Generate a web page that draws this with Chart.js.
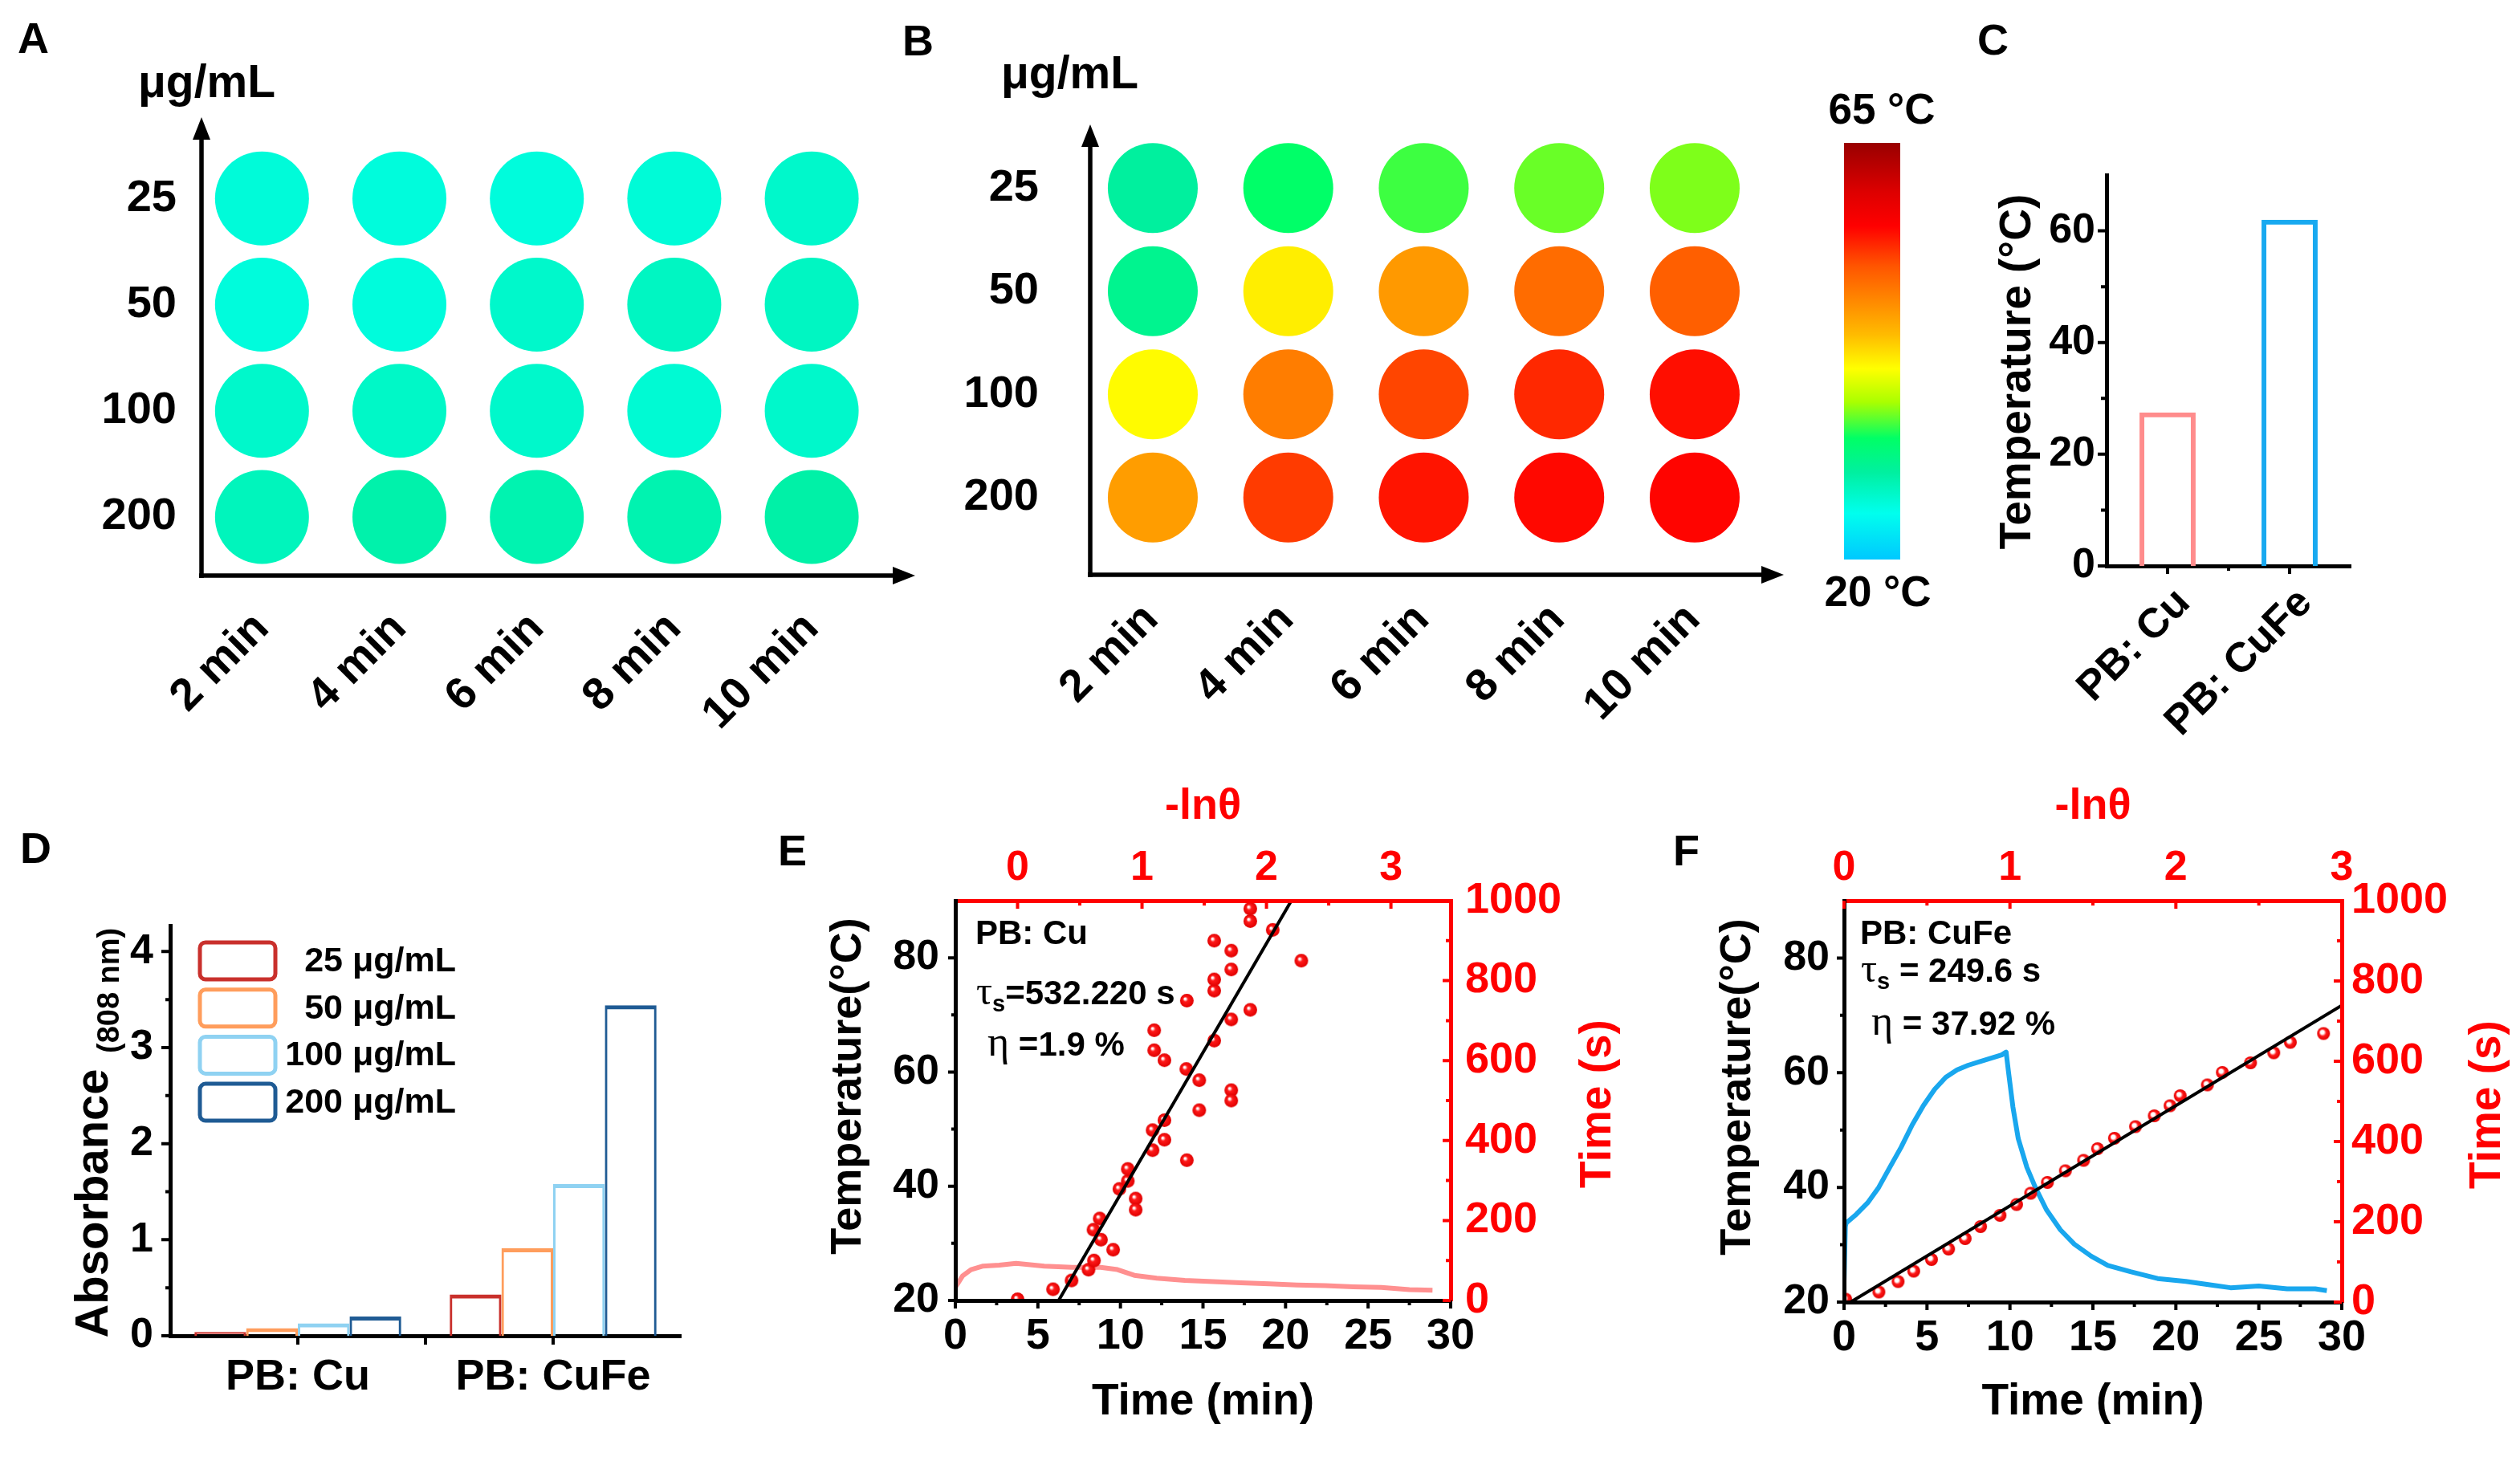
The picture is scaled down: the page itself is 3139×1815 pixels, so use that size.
<!DOCTYPE html>
<html lang="en">
<head>
<meta charset="utf-8">
<title>PB: Cu vs PB: CuFe photothermal</title>
<script src="https://cdn.jsdelivr.net/npm/chart.js@4.4.1/dist/chart.umd.min.js"></script>
<style>
  html, body { margin: 0; padding: 0; background: #fff; }
  body { position: relative; width: 3139px; height: 1815px; overflow: hidden; }
  canvas { position: absolute; }
</style>
</head>
<body>
<script>
// Minutos de irradiación (columnas de A y B)
const minutes = [2, 4, 6, 8, 10];
// Concentraciones en µg/mL (filas de A y B)
const concLabels = ['25', '50', '100', '200'];
const tempA = [
  [26.2, 26.0, 26.0, 26.3, 27.0],
  [26.0, 26.0, 27.0, 27.5, 27.5],
  [27.0, 27.2, 27.0, 26.5, 27.0],
  [27.8, 28.8, 28.5, 28.5, 29.0]
];
const tempB = [
  [29.5, 33.0, 34.5, 35.5, 36.0],
  [30.5, 41.5, 46.8, 50.0, 51.0],
  [40.8, 48.8, 52.5, 54.0, 55.3],
  [46.5, 53.0, 55.0, 55.6, 55.8]
];
// Escala de color de la cámara térmica (20 °C - 65 °C)
const cmapT = [20, 25, 29.4, 33.1, 37, 40.6, 44.3, 48, 51.7, 56, 59.7, 65];
const cmapC = ['#00c8ff', '#00ffee', '#00f0a0', '#00ff66', '#aaff00', '#ffff00',
               '#ffbb00', '#ff8800', '#ff5500', '#ff0000', '#dd0000', '#990000'];

// Panel C: temperatura máxima
const sampleLabels = ['PB: Cu', 'PB: CuFe'];
const maxTemp = [27.5, 62.0];
const cTicks = [0, 20, 40, 60];

// Panel D: absorbancia a 808 nm
const concSeries = ['25 μg/mL', '50 μg/mL', '100 μg/mL', '200 μg/mL'];
const abs25 = [0.04, 0.43];
const abs50 = [0.08, 0.91];
const abs100 = [0.13, 1.58];
const abs200 = [0.20, 3.44];
const dTicks = [0, 1, 2, 3, 4];

// Paneles E y F: ejes comunes
const timeTicks = [0, 5, 10, 15, 20, 25, 30];
const tempTicks = [20, 40, 60, 80];
const secTicks = [0, 200, 400, 600, 800, 1000];
const lnTicks = [0, 1, 2, 3];

// E: curva de calentamiento/enfriamiento PB: Cu
const eTimeMin = [0, 0.44, 0.95, 1.64, 2.66, 3.68, 5.39, 7.09, 8.8, 9.82, 10.84, 12.2, 13.9, 15.6,
                  17.3, 19.0, 20.7, 22.4, 24.1, 25.8, 27.5, 28.9];
const eTemp = [22.3, 24.3, 25.4, 26.0, 26.2, 26.5, 26.0, 25.8, 25.8, 25.4, 24.4, 23.9, 23.5, 23.3,
               23.1, 22.9, 22.7, 22.6, 22.4, 22.3, 21.9, 21.8];
// E: -lnθ frente a tiempo (s)
const eLn = [0, 0.285, 0.434, 0.57, 0.614, 0.61, 0.66, 0.67, 0.768, 0.818, 0.886, 0.886, 0.949, 0.949,
             1.085, 1.085, 1.18, 1.18, 1.098, 1.098, 1.18, 1.356, 1.36, 1.36, 1.46, 1.46, 1.58, 1.58,
             1.58, 1.58, 1.717, 1.717, 1.717, 1.717, 1.717, 1.87, 1.87, 1.87, 2.05, 2.28];
const eSec = [3, 28, 50, 77, 100, 177, 205, 152, 127, 279, 299, 329, 255, 227,
              376, 426, 451, 402, 626, 676, 601, 579, 750, 351, 551, 476, 650, 775,
              803, 900, 703, 828, 875, 526, 500, 727, 949, 980, 927, 850];
const eFitLn = [0.33, 2.20];
const eFitSec = [0, 1000];

// F: curva de calentamiento/enfriamiento PB: CuFe
const fTimeMin = [0, 0.08, 0.13, 0.74, 1.42, 2.09, 2.76, 3.44, 4.11, 4.79, 5.46, 6.13, 6.81, 7.48,
                  8.16, 8.83, 9.5, 9.77, 9.91, 10.18, 10.5, 11.02, 11.53, 12.2, 13.04, 13.88, 14.9,
                  15.9, 17.26, 18.9, 20.6, 22.3, 23.3, 25.0, 26.7, 28.4, 29.1];
const fTemp = [23.5, 33.2, 33.8, 35.3, 37.3, 40.0, 43.5, 47.0, 50.9, 54.3, 57.1, 59.2, 60.5, 61.3,
               61.9, 62.5, 63.1, 63.6, 60.2, 54.0, 48.5, 43.5, 40.0, 36.1, 32.6, 30.1, 28.0,
               26.4, 25.3, 24.1, 23.6, 22.9, 22.5, 22.8, 22.3, 22.3, 22.0];
// F: -lnθ frente a tiempo (s)
const fLn = [0.01, 0.21, 0.326, 0.42, 0.527, 0.63, 0.73, 0.823, 0.94, 1.04, 1.125, 1.226, 1.334,
             1.444, 1.528, 1.63, 1.757, 1.87, 1.965, 2.026, 2.19, 2.28, 2.45, 2.59, 2.69, 2.89];
const fSec = [7, 25, 51, 77, 106, 132, 158, 188, 216, 243, 271, 298, 327,
              353, 382, 408, 437, 464, 489, 514, 541, 572, 596, 621, 647, 669];
const fFitLn = [0.04, 3.0];
const fFitSec = [0, 739];

const FONT = '"Liberation Sans", Arial, Helvetica, sans-serif';
const SERIF = '"Liberation Serif", "Times New Roman", serif';
Chart.defaults.font.family = FONT;
Chart.defaults.font.weight = 'bold';
Chart.defaults.color = '#000';

// Cajas de cada panel (coordenadas de página) y su área de trazado
const boxA = { x: 0, y: 0, w: 1180, h: 960 },      areaA = { l: 251, t: 181, r: 1140, b: 710 };
const boxB = { x: 1100, y: 0, w: 1350, h: 960 },   areaB = { l: 1358, t: 170, r: 2222, b: 684 };
const boxC = { x: 2450, y: 0, w: 689, h: 960 },    areaC = { l: 2624, t: 218, r: 2928, b: 705 };
const boxD = { x: 0, y: 960, w: 960, h: 855 },     areaD = { l: 212, t: 1153, r: 848, b: 1664 };
const boxE = { x: 960, y: 960, w: 1110, h: 855 },  areaE = { l: 1190, t: 1122, r: 1807, b: 1620 };
const boxF = { x: 2070, y: 960, w: 1069, h: 855 }, areaF = { l: 2297, t: 1122, r: 2917, b: 1622 };

function makeCanvas(box) {
  const c = document.createElement('canvas');
  c.width = box.w; c.height = box.h;
  c.style.cssText = `left:${box.x}px;top:${box.y}px;width:${box.w}px;height:${box.h}px`;
  document.body.appendChild(c);
  return c;
}

// Cada eje ocupa todo el margen de su lado, así el área de trazado queda fija
function baseOptions(box, area, scales) {
  const pad = { left: area.l - box.x, top: area.t - box.y, right: box.x + box.w - area.r, bottom: box.y + box.h - area.b };
  const layoutPad = Object.assign({}, pad);
  Object.entries(scales).forEach(([id, sc]) => {
    const pos = sc.position || (id.startsWith('x') ? 'bottom' : 'left');
    layoutPad[pos] = 0;
    sc.afterFit = s => { if (s.isHorizontal()) s.height = pad[pos]; else s.width = pad[pos]; };
  });
  return {
    responsive: false, animation: false, devicePixelRatio: 1, events: [],
    layout: { padding: layoutPad },
    plugins: { legend: { display: false }, tooltip: { enabled: false } },
    scales
  };
}

function axis(o) {
  const a = Object.assign({ grid: { display: false, drawTicks: false }, border: { display: false } }, o);
  // números sin separador de miles
  if (a.ticks && a.type === 'linear') a.ticks.callback = v => String(v);
  return a;
}
const fixTicks = vals => s => { s.ticks = vals.map(v => ({ value: v })); };
const pairs = (xs, ys) => xs.map((x, i) => ({ x, y: ys[i] }));

function hex2rgb(h) { return [1, 3, 5].map(i => parseInt(h.substr(i, 2), 16)); }
function cmap(t) {
  t = Math.max(cmapT[0], Math.min(cmapT[cmapT.length - 1], t));
  let i = 0;
  while (i < cmapT.length - 2 && t > cmapT[i + 1]) i++;
  const f = (t - cmapT[i]) / (cmapT[i + 1] - cmapT[i]);
  const a = hex2rgb(cmapC[i]), b = hex2rgb(cmapC[i + 1]);
  return `rgb(${a.map((v, k) => Math.round(v + (b[k] - v) * f)).join(',')})`;
}

function text(ctx, s, x, y, o = {}) {
  ctx.save();
  ctx.font = `${o.weight || 'bold'} ${o.size || 54}px ${o.family || FONT}`;
  ctx.fillStyle = o.color || '#000';
  ctx.textAlign = o.align || 'left';
  ctx.textBaseline = o.base || 'middle';
  ctx.translate(x, y);
  if (o.rot) ctx.rotate(o.rot);
  ctx.fillText(s, 0, 0);
  ctx.restore();
}
function runs(ctx, parts, x, y) {
  ctx.save();
  ctx.textBaseline = 'alphabetic'; ctx.textAlign = 'left'; ctx.fillStyle = '#000';
  let cx = x;
  parts.forEach(p => {
    ctx.font = p.font;
    ctx.fillText(p.t, cx, y + (p.dy || 0));
    cx += ctx.measureText(p.t).width;
  });
  ctx.restore();
}
function arrow(ctx, x1, y1, x2, y2, w) {
  const a = Math.atan2(y2 - y1, x2 - x1), L = 28, H = 11;
  const c = Math.cos(a), s = Math.sin(a);
  ctx.lineWidth = w;
  ctx.beginPath(); ctx.moveTo(x1, y1); ctx.lineTo(x2 - c * L * 0.8, y2 - s * L * 0.8); ctx.stroke();
  ctx.beginPath(); ctx.moveTo(x2, y2);
  ctx.lineTo(x2 - L * c + H * s, y2 - L * s - H * c);
  ctx.lineTo(x2 - L * c - H * s, y2 - L * s + H * c);
  ctx.closePath(); ctx.fill();
}
// Marcas de eje dibujadas con la escala de Chart.js
function marks(ctx, chart, box, id, vals, len, out, color) {
  const s = chart.scales[id], sign = out ? 1 : -1;
  const ca = chart.chartArea;
  ctx.save(); ctx.strokeStyle = color; ctx.lineWidth = 4; ctx.beginPath();
  vals.forEach(v => {
    const p = s.getPixelForValue(v);
    if (s.position === 'left') { const x = ca.left + box.x, y = p + box.y; ctx.moveTo(x, y); ctx.lineTo(x - sign * len, y); }
    else if (s.position === 'right') { const x = ca.right + box.x, y = p + box.y; ctx.moveTo(x, y); ctx.lineTo(x + sign * len, y); }
    else if (s.position === 'bottom') { const x = p + box.x, y = ca.bottom + box.y; ctx.moveTo(x, y); ctx.lineTo(x, y + sign * len); }
    else { const x = p + box.x, y = ca.top + box.y; ctx.moveTo(x, y); ctx.lineTo(x, y - sign * len); }
  });
  ctx.stroke(); ctx.restore();
}
// Plugin que dibuja en coordenadas de página
function pagePlugin(id, box, draw) {
  return {
    id,
    afterDraw(chart) {
      const ctx = chart.ctx;
      ctx.save(); ctx.translate(-box.x, -box.y);
      draw(ctx, chart);
      ctx.restore();
    }
  };
}

function drawColorbar(ctx) {
  const x = 2297, y = 178, w = 70, h = 519;
  const lo = cmapT[0], hi = cmapT[cmapT.length - 1];
  const g = ctx.createLinearGradient(0, y + h, 0, y);
  cmapT.forEach((t, i) => g.addColorStop((t - lo) / (hi - lo), cmapC[i]));
  ctx.fillStyle = g;
  ctx.fillRect(x, y, w, h);
  text(ctx, hi + ' °C', x + w / 2 + 12, 139, { size: 53, align: 'center' });
  text(ctx, lo + ' °C', x + w / 2 + 7, 740, { size: 53, align: 'center' });
}

/**
 * Paneles A y B: matriz de pocillos coloreados según temperatura.
 */
function thermalPanel(box, area, temps, radius, o) {
  const pts = [], cols = [];
  temps.forEach((row, r) => row.forEach((t, c) => {
    pts.push({ x: minutes[c], y: concLabels[r] });
    cols.push(cmap(t));
  }));
  return new Chart(makeCanvas(box), {
    type: 'scatter',
    data: { datasets: [{ data: pts, backgroundColor: cols, pointRadius: radius, borderWidth: 0, clip: false }] },
    options: baseOptions(box, area, {
      x: axis({ type: 'linear', min: o.xMin, max: o.xMax, ticks: { display: false } }),
      y: axis({ type: 'category', labels: concLabels, offset: true,
                ticks: { font: { size: 56 }, padding: o.yPad, autoSkip: false } })
    }),
    plugins: [pagePlugin('thermal' + o.letter, box, (ctx, chart) => {
      const xs = chart.scales.x;
      ctx.strokeStyle = '#000'; ctx.fillStyle = '#000';
      arrow(ctx, area.l, o.axisY + 3, area.l, o.arrowTop, 5.5);
      arrow(ctx, area.l - 3, o.axisY, o.arrowRight, o.axisY, 5.5);
      minutes.forEach(m => {
        text(ctx, m + ' min', xs.getPixelForValue(m) + box.x + o.lblDx, o.axisY + o.lblDy,
             { size: 56, align: 'right', rot: -Math.PI / 4 });
      });
      text(ctx, 'μg/mL', o.unitX, o.unitY, { size: 57, base: 'alphabetic' });
      text(ctx, o.letter, o.letterX, o.letterY, { size: 54 });
      if (o.colorbar) drawColorbar(ctx);
    })]
  });
}

thermalPanel(boxA, areaA, tempA, 58.5, {
  letter: 'A', letterX: 22, letterY: 51, unitX: 172, unitY: 121,
  xMin: 1.12, xMax: 11.29, yPad: 31, axisY: 717, arrowTop: 146, arrowRight: 1140, lblDx: 0, lblDy: 57
});
thermalPanel(boxB, areaB, tempB, 56, {
  letter: 'B', letterX: 1124, letterY: 54, unitX: 1247, unitY: 110,
  xMin: 1.076, xMax: 11.316, yPad: 64, axisY: 716, arrowTop: 155, arrowRight: 2222, lblDx: -2, lblDy: 47,
  colorbar: true
});

// Panel C: barras de temperatura máxima
new Chart(makeCanvas(boxC), {
  type: 'bar',
  data: {
    labels: sampleLabels,
    datasets: [{ data: maxTemp, borderColor: ['#ff8c8c', '#18a9f0'], backgroundColor: 'rgba(0,0,0,0)',
                 borderWidth: 6, barPercentage: 0.46, categoryPercentage: 1 }]
  },
  options: baseOptions(boxC, areaC, {
    x: axis({ type: 'category', ticks: { display: false }, border: { display: true, color: '#000', width: 5 } }),
    y: axis({ type: 'linear', min: 0, max: 70, afterBuildTicks: fixTicks(cTicks),
              ticks: { font: { size: 52 }, padding: 14, autoSkip: false },
              border: { display: true, color: '#000', width: 5 } })
  }),
  plugins: [pagePlugin('panelC', boxC, (ctx, chart) => {
    marks(ctx, chart, boxC, 'y', cTicks, 11, true, '#000');
    marks(ctx, chart, boxC, 'y', [10, 30, 50], 7, true, '#000');
    marks(ctx, chart, boxC, 'x', [0, 1], 10, true, '#000');
    marks(ctx, chart, boxC, 'x', [0.5], 6, true, '#000');
    const xs = chart.scales.x;
    sampleLabels.forEach((lab, i) => {
      text(ctx, lab, xs.getPixelForValue(i) + boxC.x + 20, 743, { size: 52, align: 'right', rot: -Math.PI / 4 });
    });
    text(ctx, 'Temperature (°C)', 2514, 463, { size: 55, align: 'center', rot: -Math.PI / 2 });
    text(ctx, 'C', 2463, 53, { size: 54 });
  })]
});

// Panel D: absorbancia agrupada
const dColors = ['#c9302c', '#ff9d5c', '#8fd2f2', '#1f5b94'];
const dValues = [abs25, abs50, abs100, abs200];
new Chart(makeCanvas(boxD), {
  type: 'bar',
  data: {
    labels: sampleLabels,
    datasets: concSeries.map((lab, i) => ({
      label: lab, data: dValues[i], borderColor: dColors[i], backgroundColor: 'rgba(0,0,0,0)',
      borderWidth: { top: 5, left: 3, right: 3, bottom: 0 }, barPercentage: 1, categoryPercentage: 0.81
    }))
  },
  options: baseOptions(boxD, areaD, {
    x: axis({ type: 'category', ticks: { font: { size: 54 }, padding: 20, autoSkip: false, maxRotation: 0, minRotation: 0 },
              border: { display: true, color: '#000', width: 5 } }),
    y: axis({ type: 'linear', min: 0, max: 4.27, afterBuildTicks: fixTicks(dTicks),
              ticks: { font: { size: 52 }, padding: 21, autoSkip: false },
              border: { display: true, color: '#000', width: 5 } })
  }),
  plugins: [pagePlugin('panelD', boxD, (ctx, chart) => {
    marks(ctx, chart, boxD, 'y', dTicks, 11, true, '#000');
    marks(ctx, chart, boxD, 'y', [0.5, 1.5, 2.5, 3.5], 6, true, '#000');
    marks(ctx, chart, boxD, 'x', [0, 0.5, 1], 11, true, '#000');
    // leyenda
    chart.data.datasets.forEach((ds, i) => {
      const top = 1172 + i * 58.7;
      ctx.save();
      ctx.strokeStyle = ds.borderColor; ctx.lineWidth = 5;
      ctx.beginPath();
      if (ctx.roundRect) ctx.roundRect(249, top + 2, 94, 46, 7); else ctx.rect(249, top + 2, 94, 46);
      ctx.stroke();
      ctx.restore();
      text(ctx, ds.label, 568, top + 26, { size: 43, align: 'right' });
    });
    ctx.save();
    ctx.translate(134, 1499); ctx.rotate(-Math.PI / 2);
    ctx.fillStyle = '#000'; ctx.textBaseline = 'alphabetic';
    ctx.font = `bold 58px ${FONT}`; ctx.textAlign = 'center';
    ctx.fillText('Absorbance', 0, 0);
    ctx.font = `bold 38px ${FONT}`; ctx.textAlign = 'left';
    ctx.fillText('(808 nm)', 1499 - 1312, 14);
    ctx.restore();
    text(ctx, 'D', 25, 1060, { size: 54 });
  })]
});

// Marcadores esféricos rojos para -lnθ
function sphere(r, hole) {
  const c = document.createElement('canvas');
  const d = Math.ceil(r * 2 + 2);
  c.width = c.height = d;
  const g = c.getContext('2d'), m = d / 2;
  const grad = g.createRadialGradient(m - r * 0.3, m - r * 0.3, 0, m, m, r);
  grad.addColorStop(0, '#ffffff');
  grad.addColorStop(hole, '#ffffff');
  grad.addColorStop(Math.min(hole + 0.25, 0.9), '#ff1a1a');
  grad.addColorStop(1, '#e00000');
  g.fillStyle = grad;
  g.beginPath(); g.arc(m, m, r, 0, Math.PI * 2); g.fill();
  return c;
}

/**
 * Paneles E y F: curva de temperatura y ajuste lineal de -lnθ.
 */
function coolPanel(box, area, s, o) {
  return new Chart(makeCanvas(box), {
    type: 'scatter',
    data: {
      datasets: [
        { data: pairs(s.fitLn, s.fitSec), xAxisID: 'xTop', yAxisID: 'yRight', showLine: true,
          pointRadius: 0, borderColor: '#000', borderWidth: 4 },
        { data: pairs(s.ln, s.sec), xAxisID: 'xTop', yAxisID: 'yRight', pointStyle: s.marker, pointRadius: 8 },
        { data: pairs(s.tMin, s.temp), xAxisID: 'x', yAxisID: 'y', showLine: true, pointRadius: 0,
          borderColor: s.color, borderWidth: 6, borderJoinStyle: 'round' }
      ]
    },
    options: baseOptions(box, area, {
      x: axis({ type: 'linear', position: 'bottom', min: 0, max: 30, afterBuildTicks: fixTicks(timeTicks),
                ticks: { font: { size: 54 }, padding: 13, autoSkip: false, maxRotation: 0 },
                border: { display: true, color: '#000', width: 5, z: 1 } }),
      xTop: axis({ type: 'linear', position: 'top', min: o.lnMin, max: o.lnMax, afterBuildTicks: fixTicks(lnTicks),
                   ticks: { font: { size: 52 }, color: '#ff0000', padding: 9, autoSkip: false, maxRotation: 0 },
                   border: { display: true, color: '#ff0000', width: 5, z: 1 } }),
      y: axis({ type: 'linear', position: 'left', min: 20, max: 90, afterBuildTicks: fixTicks(tempTicks),
                ticks: { font: { size: 52 }, padding: o.leftPad, autoSkip: false },
                border: { display: true, color: '#000', width: 5, z: 1 } }),
      yRight: axis({ type: 'linear', position: 'right', min: 0, max: 1000, afterBuildTicks: fixTicks(secTicks),
                     ticks: { font: { size: 54 }, color: '#ff0000', padding: o.rightPad, autoSkip: false },
                     border: { display: true, color: '#ff0000', width: 5, z: 1 } })
    }),
    plugins: [pagePlugin('cool' + o.letter, box, (ctx, chart) => {
      marks(ctx, chart, box, 'y', tempTicks, 9, true, '#000');
      marks(ctx, chart, box, 'y', [30, 50, 70], 5, true, '#000');
      marks(ctx, chart, box, 'x', timeTicks, 10, true, '#000');
      marks(ctx, chart, box, 'x', [2.5, 7.5, 12.5, 17.5, 22.5, 27.5], 6, true, '#000');
      marks(ctx, chart, box, 'xTop', lnTicks, 10, false, '#ff0000');
      marks(ctx, chart, box, 'xTop', [0.5, 1.5, 2.5], 6, false, '#ff0000');
      marks(ctx, chart, box, 'yRight', secTicks, 10, false, '#ff0000');
      marks(ctx, chart, box, 'yRight', [100, 300, 500, 700, 900], 6, false, '#ff0000');
      const cx = (area.l + area.r) / 2;
      text(ctx, '-lnθ', cx, 1005, { size: 54, align: 'center', color: '#ff0000' });
      text(ctx, 'Time (min)', cx, 1747, { size: 55, align: 'center' });
      text(ctx, 'Temperature(°C)', o.leftTitleX, (area.t + area.b) / 2 - 18, { size: 54, align: 'center', rot: -Math.PI / 2 });
      text(ctx, 'Time (s)', o.rightTitleX, (area.t + area.b) / 2 + 4, { size: 55, align: 'center', rot: -Math.PI / 2, color: '#ff0000' });
      text(ctx, o.name, o.textX, 1176, { size: 42, base: 'alphabetic' });
      runs(ctx, [
        { t: 'τ', font: `50px ${SERIF}` },
        { t: 's', font: `bold 29px ${FONT}`, dy: 9 },
        { t: o.tau, font: `bold 42px ${FONT}` }
      ], o.textX + 1, o.tauY);
      runs(ctx, [
        { t: 'η', font: `52px ${SERIF}` },
        { t: o.eta, font: `bold 42px ${FONT}` }
      ], o.etaX, o.etaY);
      text(ctx, o.letter, o.letterX, 1063, { size: 54 });
    })]
  });
}

coolPanel(boxE, areaE, {
  tMin: eTimeMin, temp: eTemp, ln: eLn, sec: eSec, fitLn: eFitLn, fitSec: eFitSec,
  color: '#ff9090', marker: sphere(8.5, 0.12)
}, {
  letter: 'E', letterX: 969, lnMin: -0.5, lnMax: 3.48, leftPad: 20, rightPad: 18,
  leftTitleX: 1057, rightTitleX: 1991, name: 'PB: Cu', textX: 1215,
  tau: '=532.220 s', tauY: 1251, eta: ' =1.9 %', etaX: 1230, etaY: 1315
});
coolPanel(boxF, areaF, {
  tMin: fTimeMin, temp: fTemp, ln: fLn, sec: fSec, fitLn: fFitLn, fitSec: fFitSec,
  color: '#19a7ee', marker: sphere(8, 0.3)
}, {
  letter: 'F', letterX: 2084, lnMin: 0, lnMax: 3, leftPad: 18, rightPad: 12,
  leftTitleX: 2165, rightTitleX: 3099, name: 'PB: CuFe', textX: 2317,
  tau: ' = 249.6 s', tauY: 1223, eta: ' = 37.92 %', etaX: 2331, etaY: 1289
});
</script>
</body>
</html>
